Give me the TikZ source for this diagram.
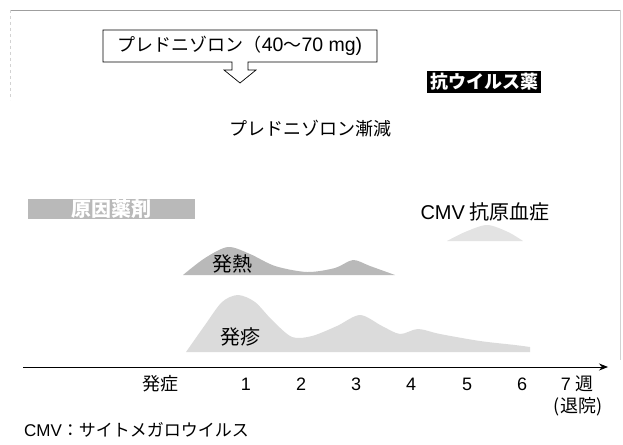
\documentclass[tikz,border=0pt]{standalone}
\usepackage{fontspec}
\setmainfont{Noto Sans CJK JP}
\newfontfamily\lat{Liberation Sans}
\usetikzlibrary{arrows.meta}
\tikzset{
  px/.style={x=1pt,y=-1pt},
  lbl/.style={inner sep=0pt,font=\fontsize{18}{18}\selectfont},
  frameline/.style={draw=gray!35,line width=0.6pt},
}
\begin{document}
\begin{tikzpicture}[px]
\useasboundingbox (0,0) rectangle (623,444);
% frame
\draw[gray!75,line width=0.8pt] (10,10) -- (620,10);
\draw[frameline,dashed] (10,10) -- (10,100);
\draw[frameline] (620,10) -- (620,360);
% prednisolone box with hollow arrow
\draw[line width=0.7pt,fill=white] (103,30) -- (377,30) -- (377,62) -- (248,62) -- (248,70) -- (256,70) -- (240,83) -- (224,70) -- (232,70) -- (232,62) -- (103,62) -- cycle;
\node[lbl,font=\fontsize{18}{18}\selectfont] (pred) at (240,46) {プレドニゾロン（{\fontsize{19.5}{19.5}\selectfont\lat 40}～{\fontsize{19.5}{19.5}\selectfont\lat 70 mg)}};
% antiviral
\node[lbl,fill=black,text=white,font=\fontsize{18}{18}\selectfont\bfseries,minimum width=114pt,minimum height=22pt] (av) at (484,82) {抗ウイルス薬};
% taper
\node[lbl,font=\fontsize{18}{18}\selectfont] (taper) at (310,129) {プレドニゾロン漸減};
% causative drug
\node[lbl,fill=gray!55,text=white,font=\fontsize{20}{20}\selectfont\bfseries,minimum width=167pt,minimum height=20pt] (drug) at (111,209) {原因薬剤};
% CMV antigenemia
\node[lbl,font=\fontsize{20}{20}\selectfont] (cmvlab) at (485,212) {{\lat CMV} 抗原血症};
\fill[gray!22] plot[smooth] coordinates {(447,241) (465,232) (487,225) (508,232) (523,241)} -- cycle;
% fever
\fill[gray!55] plot[smooth] coordinates {(183,275) (205,258) (228,247) (250,254) (275,266) (307,272) (335,268) (353,260) (370,266) (395,275)} -- cycle;
\node[lbl,font=\fontsize{20}{20}\selectfont] (fever) at (232,264) {発熱};
% rash
\fill[gray!28] plot[smooth] coordinates {(186,352) (205,325) (222,302) (238,295) (255,302) (272,320) (292,337) (312,336) (337,326) (360,315) (382,326) (400,334) (418,329) (440,334) (480,341) (515,345) (530,347)} -- (530,352) -- cycle;
\node[lbl,font=\fontsize{20}{20}\selectfont] (rash) at (240,337) {発疹};
% axis
\coordinate (ax0) at (23,367);
\coordinate (ax1) at (608,367);
\draw[line width=0.8pt,-{Stealth[length=9pt,width=7pt]}] (ax0) -- (ax1);
\node[lbl] (onset) at (160,384) {発症};
\node[lbl] (w1) at (246,384) {\lat 1};
\node[lbl] (w2) at (301,384) {\lat 2};
\node[lbl] (w3) at (356,384) {\lat 3};
\node[lbl] (w4) at (411,384) {\lat 4};
\node[lbl] (w5) at (467,384) {\lat 5};
\node[lbl] (w6) at (522,384) {\lat 6};
\node[lbl] (w7) at (577,384) {{\lat 7} 週};
\node[lbl] (disc) at (578,407) {(退院)};
\node[lbl,anchor=west,font=\fontsize{17}{17}\selectfont] (note) at (24,430) {{\lat CMV}：サイトメガロウイルス};
\end{tikzpicture}
\end{document}
